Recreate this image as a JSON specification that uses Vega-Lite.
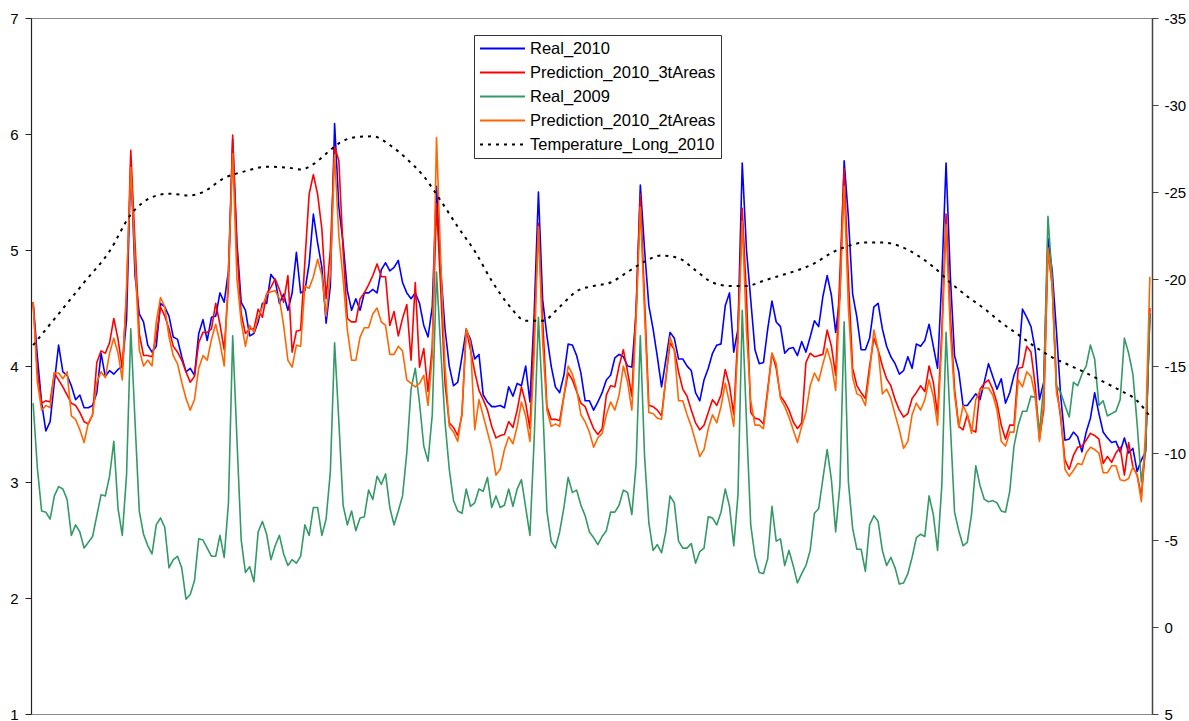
{
  "$schema": "https://vega.github.io/schema/vega-lite/v6.json",
  "autosize": {"type": "none"},
  "padding": {"left": 31, "top": 18, "right": 37, "bottom": 7},
  "width": 1121,
  "height": 696,
  "background": "white",
  "config": {
    "view": {"stroke": "#888888", "strokeWidth": 1},
    "axis": {"labelFont": "Liberation Sans", "labelFontSize": 15, "labelColor": "#000000", "grid": false, "title": null}
  },
  "encoding": {
    "x": {"field": "i", "type": "quantitative", "scale": {"domain": [-0.5, 263.5], "nice": false, "zero": false}, "axis": null},
    "color": {
      "field": "s", "type": "nominal",
      "scale": {"domain": ["a", "b", "c", "d", "t"], "range": ["#0000ff", "#ff0000", "#339966", "#ff6600", "#000000"]},
      "legend": {"title": null, "orient": "none", "legendX": 443, "legendY": 17, "direction": "vertical", "fillColor": "white", "strokeColor": "#333333", "padding": 5, "symbolType": "M-3,0H3", "symbolSize": 225, "symbolStrokeWidth": 2, "symbolOffset": 15, "labelOffset": 19, "labelFont": "Liberation Sans", "labelFontSize": 16.5, "labelColor": "#000000", "labelLimit": 0, "rowPadding": 7,
        "labelExpr": "{'a':'Real_2010','b':'Prediction_2010_3tAreas','c':'Real_2009','d':'Prediction_2010_2tAreas','t':'Temperature_Long_2010'}[datum.label]"}
    },
    "strokeDash": {
      "field": "s", "type": "nominal",
      "scale": {"domain": ["a", "b", "c", "d", "t"], "range": [[1, 0], [1, 0], [1, 0], [1, 0], [3, 5]]},
      "legend": {"title": null, "orient": "none", "legendX": 443, "legendY": 17, "direction": "vertical", "fillColor": "white", "strokeColor": "#333333", "padding": 5, "symbolType": "M-3,0H3", "symbolSize": 225, "symbolStrokeWidth": 2, "symbolOffset": 15, "labelOffset": 19, "labelFont": "Liberation Sans", "labelFontSize": 16.5, "labelColor": "#000000", "labelLimit": 0, "rowPadding": 7,
        "labelExpr": "{'a':'Real_2010','b':'Prediction_2010_3tAreas','c':'Real_2009','d':'Prediction_2010_2tAreas','t':'Temperature_Long_2010'}[datum.label]"}
    }
  },
  "layer": [
    {
      "data": {"values": [
{"i":0,"a":4.55,"b":4.55,"c":3.68,"d":4.55},
{"i":1,"a":4.08,"b":3.95,"c":3.12,"d":3.86},
{"i":2,"a":3.68,"b":3.68,"c":2.75,"d":3.62},
{"i":3,"a":3.44,"b":3.70,"c":2.74,"d":3.66},
{"i":4,"a":3.52,"b":3.69,"c":2.68,"d":3.64},
{"i":5,"a":3.86,"b":3.94,"c":2.88,"d":3.94},
{"i":6,"a":4.18,"b":3.88,"c":2.96,"d":3.94},
{"i":7,"a":3.95,"b":3.82,"c":2.94,"d":3.89},
{"i":8,"a":3.92,"b":3.75,"c":2.85,"d":3.95},
{"i":9,"a":3.83,"b":3.68,"c":2.54,"d":3.57},
{"i":10,"a":3.71,"b":3.66,"c":2.63,"d":3.54},
{"i":11,"a":3.75,"b":3.60,"c":2.57,"d":3.45},
{"i":12,"a":3.64,"b":3.52,"c":2.43,"d":3.34},
{"i":13,"a":3.64,"b":3.50,"c":2.48,"d":3.51},
{"i":14,"a":3.66,"b":3.58,"c":2.53,"d":3.58},
{"i":15,"a":3.77,"b":4.03,"c":2.71,"d":3.86},
{"i":16,"a":4.11,"b":4.13,"c":2.89,"d":3.95},
{"i":17,"a":3.91,"b":4.11,"c":2.88,"d":3.90},
{"i":18,"a":3.96,"b":4.20,"c":3.05,"d":4.11},
{"i":19,"a":3.93,"b":4.41,"c":3.35,"d":4.24},
{"i":20,"a":3.97,"b":4.23,"c":2.77,"d":4.11},
{"i":21,"a":4.00,"b":3.98,"c":2.54,"d":3.88},
{"i":22,"a":4.40,"b":4.60,"c":3.06,"d":4.69},
{"i":23,"a":5.75,"b":5.86,"c":4.32,"d":5.71},
{"i":24,"a":4.78,"b":5.06,"c":3.52,"d":4.91},
{"i":25,"a":4.45,"b":4.28,"c":2.75,"d":4.14},
{"i":26,"a":4.38,"b":4.09,"c":2.55,"d":4.00},
{"i":27,"a":4.18,"b":4.09,"c":2.45,"d":4.05},
{"i":28,"a":4.12,"b":4.08,"c":2.38,"d":4.00},
{"i":29,"a":4.17,"b":4.26,"c":2.63,"d":4.38},
{"i":30,"a":4.54,"b":4.51,"c":2.69,"d":4.59},
{"i":31,"a":4.51,"b":4.43,"c":2.61,"d":4.51},
{"i":32,"a":4.43,"b":4.32,"c":2.26,"d":4.25},
{"i":33,"a":4.25,"b":4.17,"c":2.33,"d":4.09},
{"i":34,"a":4.23,"b":4.12,"c":2.36,"d":4.02},
{"i":35,"a":4.08,"b":4.05,"c":2.26,"d":3.86},
{"i":36,"a":3.95,"b":3.95,"c":1.99,"d":3.72},
{"i":37,"a":3.98,"b":3.86,"c":2.03,"d":3.62},
{"i":38,"a":3.92,"b":3.91,"c":2.15,"d":3.71},
{"i":39,"a":4.28,"b":4.20,"c":2.51,"d":3.98},
{"i":40,"a":4.40,"b":4.29,"c":2.50,"d":4.09},
{"i":41,"a":4.22,"b":4.29,"c":2.43,"d":4.05},
{"i":42,"a":4.42,"b":4.32,"c":2.36,"d":4.23},
{"i":43,"a":4.43,"b":4.54,"c":2.36,"d":4.36},
{"i":44,"a":4.63,"b":4.36,"c":2.54,"d":4.20},
{"i":45,"a":4.55,"b":4.14,"c":2.35,"d":4.00},
{"i":46,"a":4.82,"b":4.69,"c":2.82,"d":4.82},
{"i":47,"a":5.95,"b":5.99,"c":4.26,"d":5.83},
{"i":48,"a":5.06,"b":5.00,"c":3.37,"d":4.75},
{"i":49,"a":4.55,"b":4.45,"c":2.50,"d":4.38},
{"i":50,"a":4.48,"b":4.28,"c":2.22,"d":4.17},
{"i":51,"a":4.26,"b":4.32,"c":2.27,"d":4.35},
{"i":52,"a":4.28,"b":4.32,"c":2.14,"d":4.29},
{"i":53,"a":4.38,"b":4.49,"c":2.57,"d":4.42},
{"i":54,"a":4.54,"b":4.42,"c":2.66,"d":4.51},
{"i":55,"a":4.54,"b":4.62,"c":2.55,"d":4.62},
{"i":56,"a":4.79,"b":4.68,"c":2.33,"d":4.64},
{"i":57,"a":4.74,"b":4.75,"c":2.45,"d":4.65},
{"i":58,"a":4.54,"b":4.66,"c":2.54,"d":4.58},
{"i":59,"a":4.62,"b":4.55,"c":2.38,"d":4.35},
{"i":60,"a":4.48,"b":4.78,"c":2.28,"d":4.05},
{"i":61,"a":4.63,"b":4.12,"c":2.33,"d":3.99},
{"i":62,"a":4.98,"b":4.30,"c":2.30,"d":4.18},
{"i":63,"a":4.63,"b":4.31,"c":2.36,"d":4.17},
{"i":64,"a":4.65,"b":4.90,"c":2.63,"d":4.69},
{"i":65,"a":4.88,"b":5.48,"c":2.54,"d":4.67},
{"i":66,"a":5.31,"b":5.65,"c":2.78,"d":4.77},
{"i":67,"a":5.06,"b":5.48,"c":2.78,"d":4.92},
{"i":68,"a":4.85,"b":5.18,"c":2.54,"d":4.78},
{"i":69,"a":4.37,"b":4.58,"c":2.68,"d":4.43},
{"i":70,"a":4.69,"b":5.00,"c":3.09,"d":4.80},
{"i":71,"a":6.09,"b":5.89,"c":4.20,"d":5.82},
{"i":72,"a":5.37,"b":5.77,"c":3.52,"d":5.12},
{"i":73,"a":5.06,"b":5.00,"c":2.80,"d":4.75},
{"i":74,"a":4.65,"b":4.41,"c":2.63,"d":4.31},
{"i":75,"a":4.48,"b":4.38,"c":2.75,"d":4.05},
{"i":76,"a":4.58,"b":4.38,"c":2.58,"d":4.05},
{"i":77,"a":4.48,"b":4.58,"c":2.69,"d":4.25},
{"i":78,"a":4.63,"b":4.63,"c":2.70,"d":4.33},
{"i":79,"a":4.63,"b":4.70,"c":2.93,"d":4.33},
{"i":80,"a":4.66,"b":4.78,"c":2.85,"d":4.45},
{"i":81,"a":4.63,"b":4.88,"c":3.05,"d":4.50},
{"i":82,"a":4.83,"b":4.77,"c":2.98,"d":4.38},
{"i":83,"a":4.89,"b":4.77,"c":3.07,"d":4.35},
{"i":84,"a":4.82,"b":4.35,"c":2.78,"d":4.10},
{"i":85,"a":4.85,"b":4.47,"c":2.63,"d":4.10},
{"i":86,"a":4.91,"b":4.26,"c":2.75,"d":4.17},
{"i":87,"a":4.72,"b":4.41,"c":2.88,"d":4.13},
{"i":88,"a":4.63,"b":4.53,"c":3.25,"d":3.88},
{"i":89,"a":4.58,"b":4.05,"c":3.80,"d":3.85},
{"i":90,"a":4.63,"b":4.72,"c":3.98,"d":3.82},
{"i":91,"a":4.54,"b":3.99,"c":3.68,"d":3.85},
{"i":92,"a":4.35,"b":4.15,"c":3.31,"d":3.92},
{"i":93,"a":4.25,"b":3.78,"c":3.18,"d":3.66},
{"i":94,"a":4.51,"b":4.17,"c":3.58,"d":4.08},
{"i":95,"a":5.55,"b":5.40,"c":4.81,"d":5.97},
{"i":96,"a":4.82,"b":4.65,"c":4.14,"d":4.90},
{"i":97,"a":4.32,"b":3.85,"c":3.52,"d":4.00},
{"i":98,"a":4.00,"b":3.51,"c":3.11,"d":3.48},
{"i":99,"a":3.83,"b":3.47,"c":2.84,"d":3.43},
{"i":100,"a":3.86,"b":3.40,"c":2.75,"d":3.35},
{"i":101,"a":4.08,"b":3.58,"c":2.73,"d":3.60},
{"i":102,"a":4.31,"b":4.32,"c":2.94,"d":4.32},
{"i":103,"a":4.23,"b":4.14,"c":2.79,"d":4.20},
{"i":104,"a":4.06,"b":3.95,"c":2.82,"d":3.45},
{"i":105,"a":4.10,"b":3.79,"c":2.94,"d":3.71},
{"i":106,"a":3.75,"b":3.71,"c":2.92,"d":3.57},
{"i":107,"a":3.69,"b":3.62,"c":3.04,"d":3.43},
{"i":108,"a":3.65,"b":3.48,"c":2.78,"d":3.29},
{"i":109,"a":3.65,"b":3.38,"c":2.88,"d":3.06},
{"i":110,"a":3.66,"b":3.40,"c":2.78,"d":3.11},
{"i":111,"a":3.64,"b":3.41,"c":2.80,"d":3.28},
{"i":112,"a":3.82,"b":3.52,"c":2.94,"d":3.39},
{"i":113,"a":3.74,"b":3.47,"c":2.79,"d":3.33},
{"i":114,"a":3.85,"b":3.62,"c":2.94,"d":3.48},
{"i":115,"a":3.83,"b":3.82,"c":3.02,"d":3.69},
{"i":116,"a":4.00,"b":3.68,"c":2.78,"d":3.57},
{"i":117,"a":3.69,"b":3.46,"c":2.54,"d":3.35},
{"i":118,"a":4.45,"b":4.30,"c":3.37,"d":4.10},
{"i":119,"a":5.50,"b":5.23,"c":4.42,"d":5.20},
{"i":120,"a":4.57,"b":4.40,"c":3.68,"d":4.20},
{"i":121,"a":4.26,"b":3.65,"c":2.75,"d":3.62},
{"i":122,"a":4.00,"b":3.54,"c":2.49,"d":3.48},
{"i":123,"a":3.82,"b":3.54,"c":2.43,"d":3.50},
{"i":124,"a":3.77,"b":3.53,"c":2.57,"d":3.48},
{"i":125,"a":3.92,"b":3.74,"c":2.78,"d":3.74},
{"i":126,"a":4.19,"b":3.94,"c":3.04,"d":4.00},
{"i":127,"a":4.18,"b":3.88,"c":2.91,"d":3.93},
{"i":128,"a":4.09,"b":3.78,"c":2.93,"d":3.80},
{"i":129,"a":3.94,"b":3.68,"c":2.80,"d":3.58},
{"i":130,"a":3.70,"b":3.65,"c":2.71,"d":3.52},
{"i":131,"a":3.70,"b":3.55,"c":2.57,"d":3.43},
{"i":132,"a":3.62,"b":3.46,"c":2.52,"d":3.30},
{"i":133,"a":3.69,"b":3.41,"c":2.46,"d":3.38},
{"i":134,"a":3.77,"b":3.46,"c":2.53,"d":3.42},
{"i":135,"a":3.88,"b":3.75,"c":2.58,"d":3.58},
{"i":136,"a":3.92,"b":3.83,"c":2.74,"d":3.69},
{"i":137,"a":4.07,"b":3.82,"c":2.74,"d":3.62},
{"i":138,"a":4.10,"b":4.00,"c":2.80,"d":3.75},
{"i":139,"a":4.08,"b":4.14,"c":2.93,"d":4.00},
{"i":140,"a":4.00,"b":3.95,"c":2.91,"d":3.86},
{"i":141,"a":3.99,"b":3.74,"c":2.72,"d":3.62},
{"i":142,"a":4.45,"b":4.50,"c":3.15,"d":4.40},
{"i":143,"a":5.56,"b":5.48,"c":4.26,"d":5.37},
{"i":144,"a":5.00,"b":4.57,"c":3.22,"d":4.45},
{"i":145,"a":4.52,"b":3.66,"c":2.65,"d":3.60},
{"i":146,"a":4.32,"b":3.65,"c":2.41,"d":3.59},
{"i":147,"a":4.08,"b":3.62,"c":2.46,"d":3.55},
{"i":148,"a":3.82,"b":3.57,"c":2.39,"d":3.54},
{"i":149,"a":4.05,"b":3.89,"c":2.57,"d":3.89},
{"i":150,"a":4.29,"b":4.20,"c":2.88,"d":4.25},
{"i":151,"a":4.24,"b":4.14,"c":2.82,"d":4.14},
{"i":152,"a":4.06,"b":3.95,"c":2.49,"d":3.70},
{"i":153,"a":4.06,"b":3.80,"c":2.43,"d":3.70},
{"i":154,"a":4.00,"b":3.74,"c":2.43,"d":3.58},
{"i":155,"a":3.96,"b":3.62,"c":2.47,"d":3.48},
{"i":156,"a":3.77,"b":3.51,"c":2.30,"d":3.35},
{"i":157,"a":3.70,"b":3.45,"c":2.40,"d":3.22},
{"i":158,"a":3.88,"b":3.49,"c":2.43,"d":3.28},
{"i":159,"a":3.98,"b":3.60,"c":2.70,"d":3.46},
{"i":160,"a":4.11,"b":3.71,"c":2.69,"d":3.58},
{"i":161,"a":4.18,"b":3.66,"c":2.63,"d":3.51},
{"i":162,"a":4.19,"b":3.75,"c":2.74,"d":3.65},
{"i":163,"a":4.52,"b":3.97,"c":2.94,"d":3.85},
{"i":164,"a":4.63,"b":3.83,"c":2.79,"d":3.68},
{"i":165,"a":4.12,"b":3.58,"c":2.45,"d":3.48},
{"i":166,"a":4.32,"b":4.30,"c":2.89,"d":4.20},
{"i":167,"a":5.75,"b":5.36,"c":4.48,"d":5.25},
{"i":168,"a":5.00,"b":4.60,"c":3.52,"d":4.30},
{"i":169,"a":4.57,"b":3.60,"c":2.63,"d":3.70},
{"i":170,"a":4.14,"b":3.55,"c":2.36,"d":3.49},
{"i":171,"a":4.02,"b":3.54,"c":2.22,"d":3.49},
{"i":172,"a":4.03,"b":3.50,"c":2.21,"d":3.46},
{"i":173,"a":4.32,"b":3.80,"c":2.34,"d":3.77},
{"i":174,"a":4.56,"b":4.11,"c":2.79,"d":4.11},
{"i":175,"a":4.38,"b":3.98,"c":2.49,"d":4.02},
{"i":176,"a":4.34,"b":3.74,"c":2.51,"d":3.72},
{"i":177,"a":4.11,"b":3.69,"c":2.28,"d":3.65},
{"i":178,"a":4.15,"b":3.62,"c":2.41,"d":3.56},
{"i":179,"a":4.16,"b":3.52,"c":2.28,"d":3.45},
{"i":180,"a":4.09,"b":3.46,"c":2.13,"d":3.34},
{"i":181,"a":4.21,"b":3.51,"c":2.21,"d":3.48},
{"i":182,"a":4.12,"b":4.03,"c":2.28,"d":3.60},
{"i":183,"a":4.25,"b":4.11,"c":2.41,"d":3.83},
{"i":184,"a":4.39,"b":4.08,"c":2.73,"d":3.94},
{"i":185,"a":4.34,"b":4.09,"c":2.77,"d":3.87},
{"i":186,"a":4.60,"b":4.10,"c":3.03,"d":4.02},
{"i":187,"a":4.78,"b":4.31,"c":3.28,"d":4.15},
{"i":188,"a":4.61,"b":4.17,"c":3.02,"d":4.02},
{"i":189,"a":4.29,"b":3.92,"c":2.57,"d":3.79},
{"i":190,"a":4.60,"b":4.80,"c":2.97,"d":4.60},
{"i":191,"a":5.77,"b":5.70,"c":4.38,"d":5.55},
{"i":192,"a":5.28,"b":4.75,"c":3.00,"d":4.50},
{"i":193,"a":4.62,"b":3.98,"c":2.60,"d":3.90},
{"i":194,"a":4.42,"b":3.83,"c":2.42,"d":3.76},
{"i":195,"a":4.14,"b":3.77,"c":2.42,"d":3.74},
{"i":196,"a":4.14,"b":3.72,"c":2.23,"d":3.66},
{"i":197,"a":4.24,"b":4.00,"c":2.63,"d":3.95},
{"i":198,"a":4.51,"b":4.24,"c":2.71,"d":4.31},
{"i":199,"a":4.54,"b":4.14,"c":2.66,"d":4.14},
{"i":200,"a":4.32,"b":4.00,"c":2.41,"d":3.76},
{"i":201,"a":4.17,"b":3.89,"c":2.28,"d":3.80},
{"i":202,"a":4.08,"b":3.83,"c":2.35,"d":3.72},
{"i":203,"a":4.02,"b":3.71,"c":2.26,"d":3.58},
{"i":204,"a":3.93,"b":3.62,"c":2.12,"d":3.45},
{"i":205,"a":3.96,"b":3.56,"c":2.13,"d":3.29},
{"i":206,"a":4.08,"b":3.59,"c":2.21,"d":3.35},
{"i":207,"a":3.98,"b":3.72,"c":2.35,"d":3.58},
{"i":208,"a":4.19,"b":3.77,"c":2.52,"d":3.68},
{"i":209,"a":4.17,"b":3.83,"c":2.55,"d":3.62},
{"i":210,"a":4.22,"b":3.78,"c":2.53,"d":3.71},
{"i":211,"a":4.36,"b":4.00,"c":2.88,"d":3.88},
{"i":212,"a":4.17,"b":3.86,"c":2.72,"d":3.74},
{"i":213,"a":3.98,"b":3.58,"c":2.41,"d":3.49},
{"i":214,"a":4.75,"b":4.30,"c":2.97,"d":4.20},
{"i":215,"a":5.75,"b":5.31,"c":4.29,"d":5.22},
{"i":216,"a":4.78,"b":4.45,"c":3.50,"d":4.30},
{"i":217,"a":4.09,"b":3.80,"c":2.74,"d":3.75},
{"i":218,"a":3.95,"b":3.48,"c":2.58,"d":3.47},
{"i":219,"a":3.66,"b":3.45,"c":2.45,"d":3.66},
{"i":220,"a":3.66,"b":3.58,"c":2.48,"d":3.58},
{"i":221,"a":3.71,"b":3.45,"c":2.72,"d":3.42},
{"i":222,"a":3.76,"b":3.43,"c":3.14,"d":3.71},
{"i":223,"a":3.71,"b":3.80,"c":2.97,"d":3.79},
{"i":224,"a":3.86,"b":3.85,"c":2.85,"d":3.81},
{"i":225,"a":4.02,"b":3.88,"c":2.83,"d":3.81},
{"i":226,"a":3.91,"b":3.80,"c":2.84,"d":3.75},
{"i":227,"a":3.80,"b":3.68,"c":2.82,"d":3.62},
{"i":228,"a":3.89,"b":3.49,"c":2.75,"d":3.35},
{"i":229,"a":3.68,"b":3.37,"c":2.74,"d":3.31},
{"i":230,"a":3.77,"b":3.49,"c":2.92,"d":3.43},
{"i":231,"a":3.92,"b":3.49,"c":3.31,"d":3.43},
{"i":232,"a":4.02,"b":3.98,"c":3.49,"d":3.88},
{"i":233,"a":4.49,"b":3.99,"c":3.61,"d":3.82},
{"i":234,"a":4.42,"b":4.17,"c":3.61,"d":3.95},
{"i":235,"a":4.34,"b":4.12,"c":3.74,"d":3.91},
{"i":236,"a":4.14,"b":3.83,"c":3.73,"d":3.74},
{"i":237,"a":3.71,"b":3.37,"c":3.43,"d":3.35},
{"i":238,"a":3.86,"b":3.62,"c":3.83,"d":3.68},
{"i":239,"a":5.10,"b":5.00,"c":5.29,"d":5.02},
{"i":240,"a":4.82,"b":4.69,"c":4.75,"d":4.69},
{"i":241,"a":4.30,"b":3.83,"c":3.83,"d":3.77},
{"i":242,"a":3.74,"b":3.55,"c":3.77,"d":3.59},
{"i":243,"a":3.36,"b":3.19,"c":3.66,"d":3.11},
{"i":244,"a":3.37,"b":3.11,"c":3.56,"d":3.05},
{"i":245,"a":3.43,"b":3.23,"c":3.86,"d":3.10},
{"i":246,"a":3.39,"b":3.30,"c":3.83,"d":3.16},
{"i":247,"a":3.26,"b":3.31,"c":3.93,"d":3.15},
{"i":248,"a":3.43,"b":3.36,"c":4.00,"d":3.25},
{"i":249,"a":3.55,"b":3.42,"c":4.18,"d":3.30},
{"i":250,"a":3.77,"b":3.40,"c":4.06,"d":3.28},
{"i":251,"a":3.59,"b":3.37,"c":3.66,"d":3.25},
{"i":252,"a":3.43,"b":3.16,"c":3.70,"d":3.08},
{"i":253,"a":3.38,"b":3.22,"c":3.57,"d":3.08},
{"i":254,"a":3.34,"b":3.17,"c":3.59,"d":3.14},
{"i":255,"a":3.35,"b":3.25,"c":3.61,"d":3.14},
{"i":256,"a":3.26,"b":3.30,"c":3.71,"d":3.02},
{"i":257,"a":3.38,"b":3.06,"c":4.24,"d":3.01},
{"i":258,"a":3.25,"b":3.34,"c":4.11,"d":3.03},
{"i":259,"a":3.29,"b":3.13,"c":3.93,"d":3.13},
{"i":260,"a":3.09,"b":3.06,"c":3.50,"d":3.06},
{"i":261,"a":3.19,"b":2.88,"c":3.00,"d":2.83},
{"i":262,"a":3.26,"b":3.30,"c":3.30,"d":3.45},
{"i":263,"a":4.45,"b":4.50,"c":4.45,"d":4.77}
      ]},
      "transform": [{"fold": ["a", "b", "c", "d"], "as": ["s", "v"]}],
      "mark": {"type": "line", "strokeWidth": 1.6, "strokeJoin": "round"},
      "encoding": {
        "y": {"field": "v", "type": "quantitative",
          "scale": {"domain": [1, 7], "nice": false, "zero": false},
          "axis": {"orient": "left", "values": [1, 2, 3, 4, 5, 6, 7], "labelExpr": "'' + datum.value", "tickSize": 6, "labelPadding": 7, "domainColor": "#222222", "tickColor": "#222222", "domainWidth": 1.2}}
      }
    },
    {
      "data": {"values": [
{"i":0,"s":"t","v":-16.2},{"i":6,"s":"t","v":-18.0},{"i":12,"s":"t","v":-19.8},{"i":18,"s":"t","v":-21.6},
{"i":23,"s":"t","v":-23.7},{"i":28,"s":"t","v":-24.7},{"i":32,"s":"t","v":-24.9},{"i":37,"s":"t","v":-24.8},
{"i":40,"s":"t","v":-25.0},{"i":45,"s":"t","v":-25.8},{"i":50,"s":"t","v":-26.2},{"i":55,"s":"t","v":-26.45},
{"i":60,"s":"t","v":-26.4},{"i":63,"s":"t","v":-26.3},{"i":66,"s":"t","v":-26.6},{"i":69,"s":"t","v":-27.2},
{"i":72,"s":"t","v":-27.8},{"i":76,"s":"t","v":-28.15},{"i":80,"s":"t","v":-28.2},{"i":84,"s":"t","v":-27.7},
{"i":88,"s":"t","v":-26.9},{"i":92,"s":"t","v":-25.9},{"i":96,"s":"t","v":-24.5},{"i":100,"s":"t","v":-23.0},
{"i":104,"s":"t","v":-21.6},{"i":108,"s":"t","v":-19.9},{"i":112,"s":"t","v":-18.5},{"i":116,"s":"t","v":-17.6},
{"i":120,"s":"t","v":-17.6},{"i":124,"s":"t","v":-18.4},{"i":128,"s":"t","v":-19.3},{"i":132,"s":"t","v":-19.6},
{"i":136,"s":"t","v":-19.8},{"i":140,"s":"t","v":-20.4},{"i":144,"s":"t","v":-21.0},{"i":148,"s":"t","v":-21.35},
{"i":152,"s":"t","v":-21.2},{"i":156,"s":"t","v":-20.5},{"i":160,"s":"t","v":-19.8},{"i":164,"s":"t","v":-19.6},
{"i":168,"s":"t","v":-19.6},{"i":172,"s":"t","v":-19.9},{"i":176,"s":"t","v":-20.2},{"i":180,"s":"t","v":-20.5},
{"i":184,"s":"t","v":-20.9},{"i":188,"s":"t","v":-21.5},{"i":192,"s":"t","v":-21.9},{"i":196,"s":"t","v":-22.1},
{"i":200,"s":"t","v":-22.1},{"i":204,"s":"t","v":-21.9},{"i":208,"s":"t","v":-21.4},{"i":212,"s":"t","v":-20.7},
{"i":216,"s":"t","v":-19.8},{"i":220,"s":"t","v":-19.0},{"i":224,"s":"t","v":-18.3},{"i":228,"s":"t","v":-17.5},
{"i":232,"s":"t","v":-16.8},{"i":236,"s":"t","v":-16.1},{"i":240,"s":"t","v":-15.5},{"i":244,"s":"t","v":-15.05},
{"i":248,"s":"t","v":-14.6},{"i":252,"s":"t","v":-14.1},{"i":256,"s":"t","v":-13.6},{"i":260,"s":"t","v":-13.0},
{"i":263,"s":"t","v":-12.1}
      ]},
      "mark": {"type": "line", "strokeWidth": 2, "interpolate": "monotone"},
      "encoding": {
        "y": {"field": "v", "type": "quantitative",
          "scale": {"domain": [-35, 5], "reverse": true, "nice": false, "zero": false},
          "axis": {"orient": "right", "values": [-35, -30, -25, -20, -15, -10, -5, 0, 5], "labelExpr": "'' + datum.value", "tickSize": 6, "labelPadding": 6, "domainColor": "#444444", "tickColor": "#444444", "domainWidth": 1.5}}
      }
    }
  ],
  "resolve": {"scale": {"y": "independent"}, "axis": {"y": "independent"}}
}
